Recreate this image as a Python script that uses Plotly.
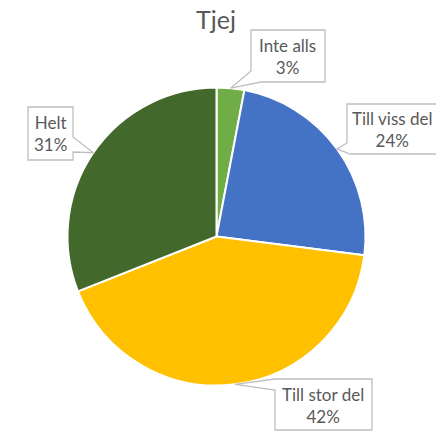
import math
import plotly.graph_objects as go

# Survey answers for the "Tjej" group (percent)
categories = ["Inte alls", "Till viss del", "Till stor del", "Helt"]
values = [3, 24, 42, 31]
colors = ["#70AD47", "#4472C4", "#FFC000", "#43682B"]

W, H = 436, 431
CX, CY, R = 216.5, 236.5, 149.0  # pie centre and radius in pixels


def px(x):
    return x / W


def py(y):
    return 1 - y / H


fig = go.Figure(
    go.Pie(
        labels=categories,
        values=values,
        sort=False,
        direction="clockwise",
        rotation=0,
        marker=dict(colors=colors, line=dict(color="white", width=2)),
        textinfo="none",
        hoverinfo="label+percent",
        showlegend=False,
        domain=dict(x=[px(CX - R), px(CX + R)], y=[py(CY + R), py(CY - R)]),
    )
)

# Tip of each callout: pie rim at the middle angle of its slice
total = sum(values)
tips = []
acc = 0
for v in values:
    mid = (acc + v / 2) / total * 2 * math.pi
    tips.append((CX + R * math.sin(mid), CY - R * math.cos(mid)))
    acc += v

# Callout boxes (pixel rectangles) and the outline built around each pointer
boxes = [
    (251, 30, 325, 82),
    (347, 104, 437, 154),
    (275, 379, 372, 430),
    (28, 107, 73, 160),
]


def outline(i):
    l, t, r, b = boxes[i]
    tip = tips[i]
    if i == 0:
        pts = [(l, t), (r, t), (r, b), (l + 10, b), tip, (l, b - 11)]
    elif i == 1:
        pts = [(l, t), (r, t), (r, b), (l + 3, b), tip, (l, b - 11)]
    elif i == 2:
        pts = [(l, t), (r, t), (r, b), (l, b), (l, t + 11), tip]
    else:
        pts = [(l, t), (r, t), (r, t + 30), tip, (r, t + 45), (r, b), (l, b)]
    return "M " + " L ".join(f"{px(x):.5f},{py(y):.5f}" for x, y in pts) + " Z"


shapes = []
annotations = []
for i, (cat, val) in enumerate(zip(categories, values)):
    shapes.append(
        dict(
            type="path",
            xref="paper",
            yref="paper",
            path=outline(i),
            fillcolor="white",
            line=dict(color="#BFBFBF", width=1.3),
            layer="above",
        )
    )
    l, t, r, b = boxes[i]
    annotations.append(
        dict(
            x=px((l + r) / 2 - 0.5),
            y=py((t + b) / 2 + 0.5),
            xref="paper",
            yref="paper",
            text=f"{cat}<br>{val}%",
            showarrow=False,
            xanchor="center",
            yanchor="middle",
            align="center",
            font=dict(family="Lato, Carlito, sans-serif", size=17, color="#595959"),
        )
    )

annotations.append(
    dict(
        x=px(216),
        y=py(19),
        xref="paper",
        yref="paper",
        text="Tjej",
        showarrow=False,
        xanchor="center",
        yanchor="middle",
        font=dict(family="Lato, Carlito, sans-serif", size=25, color="#595959"),
    )
)

fig.update_layout(
    width=W,
    height=H,
    margin=dict(l=0, r=0, t=0, b=0),
    paper_bgcolor="white",
    plot_bgcolor="white",
    shapes=shapes,
    annotations=annotations,
)

fig.write_html("out.html")
